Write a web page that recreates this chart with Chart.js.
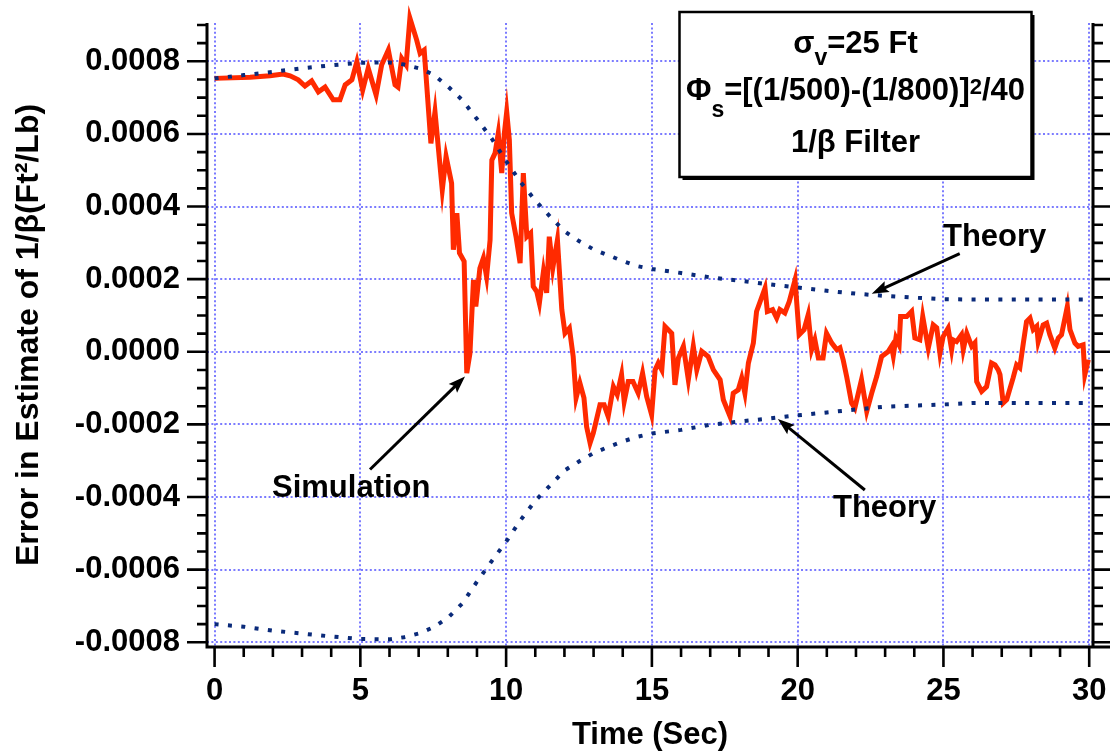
<!DOCTYPE html>
<html>
<head>
<meta charset="utf-8">
<script src="https://cdn.jsdelivr.net/npm/chart.js@4.4.1/dist/chart.umd.min.js"></script>
<style>
  html, body { margin: 0; padding: 0; background: #fff; }
  #wrap { width: 1110px; height: 754px; }
</style>
</head>
<body>
<div id="wrap"><canvas id="errChart" width="1110" height="754"></canvas></div>
<script>
// theory bounds (1-sigma) on the 1/beta estimate error, Ft^2/Lb
const theoryTime = [0, 1, 2, 3, 4, 5, 6, 6.5, 7, 7.5, 8, 8.5, 9, 9.5, 10, 10.5, 11, 11.5, 12, 12.5,
  13, 13.5, 14, 14.5, 15, 16, 17, 18, 19, 20, 21, 22, 23, 24, 25, 26, 27, 28, 29, 30];
const theoryUpper = [7.53e-4, 7.62e-4, 7.71e-4, 7.81e-4, 7.89e-4, 7.96e-4, 7.97e-4, 7.91e-4, 7.81e-4, 7.64e-4,
  7.31e-4, 6.93e-4, 6.41e-4, 5.88e-4, 5.25e-4, 4.67e-4, 4.17e-4, 3.73e-4, 3.32e-4, 3.05e-4,
  2.82e-4, 2.66e-4, 2.50e-4, 2.36e-4, 2.28e-4, 2.17e-4, 2.05e-4, 1.96e-4, 1.86e-4, 1.77e-4,
  1.68e-4, 1.60e-4, 1.54e-4, 1.49e-4, 1.45e-4, 1.44e-4, 1.44e-4, 1.44e-4, 1.44e-4, 1.44e-4];
const theoryLower = [-7.50e-4, -7.57e-4, -7.68e-4, -7.76e-4, -7.84e-4, -7.91e-4, -7.92e-4, -7.86e-4, -7.76e-4, -7.59e-4,
  -7.33e-4, -6.93e-4, -6.33e-4, -5.77e-4, -5.23e-4, -4.63e-4, -4.10e-4, -3.69e-4, -3.27e-4, -3.02e-4,
  -2.79e-4, -2.62e-4, -2.47e-4, -2.34e-4, -2.25e-4, -2.15e-4, -2.01e-4, -1.92e-4, -1.84e-4, -1.75e-4,
  -1.67e-4, -1.59e-4, -1.51e-4, -1.48e-4, -1.45e-4, -1.41e-4, -1.41e-4, -1.41e-4, -1.41e-4, -1.41e-4];

// single simulation run
const simTime = [0, 1.22, 1.90, 2.35, 2.59, 2.87, 3.10, 3.33, 3.56, 3.79,
  4.07, 4.30, 4.48, 4.71, 4.88, 5.08, 5.27, 5.54, 5.73, 5.96,
  6.19, 6.29, 6.42, 6.57, 6.70, 6.93, 7.05, 7.19, 7.42, 7.56,
  7.81, 7.94, 8.13, 8.19, 8.31, 8.40, 8.56, 8.65, 8.76, 8.88,
  8.96, 9.10, 9.22, 9.33, 9.45, 9.51, 9.62, 9.73, 9.85, 9.94,
  10.02, 10.11, 10.19, 10.34, 10.48, 10.59, 10.71, 10.84, 10.93, 11.05,
  11.14, 11.28, 11.39, 11.48, 11.60, 11.76, 11.91, 12.02, 12.17, 12.30,
  12.40, 12.53, 12.67, 12.76, 12.88, 12.99, 13.22, 13.36, 13.50, 13.68,
  13.81, 13.96, 14.05, 14.19, 14.35, 14.53, 14.68, 14.82, 14.99, 15.11,
  15.22, 15.34, 15.45, 15.68, 15.79, 15.91, 16.08, 16.25, 16.42, 16.54,
  16.71, 16.93, 17.11, 17.34, 17.45, 17.68, 17.79, 17.96, 18.08, 18.19,
  18.31, 18.48, 18.59, 18.88, 18.96, 19.14, 19.28, 19.39, 19.56, 19.71,
  19.91, 20.05, 20.22, 20.36, 20.48, 20.59, 20.71, 20.87, 20.99, 21.17,
  21.34, 21.45, 21.56, 21.68, 21.85, 21.96, 22.19, 22.37, 22.54, 22.71,
  22.88, 23.11, 23.22, 23.28, 23.37, 23.48, 23.53, 23.74, 23.91, 24.02,
  24.19, 24.29, 24.48, 24.65, 24.77, 24.88, 24.99, 25.16, 25.28, 25.33,
  25.45, 25.62, 25.68, 25.80, 25.97, 26.08, 26.14, 26.31, 26.48, 26.65,
  26.77, 26.88, 26.94, 27.05, 27.17, 27.39, 27.51, 27.62, 27.74, 27.85,
  27.97, 28.08, 28.20, 28.25, 28.42, 28.54, 28.65, 28.82, 28.94, 29.05,
  29.25, 29.34, 29.51, 29.62, 29.79, 29.85, 29.97];
const simError = [7.53e-4, 7.56e-4, 7.60e-4, 7.65e-4, 7.60e-4, 7.49e-4, 7.32e-4, 7.46e-4, 7.16e-4, 7.29e-4,
  6.94e-4, 6.94e-4, 7.35e-4, 7.49e-4, 7.99e-4, 7.21e-4, 7.81e-4, 7.07e-4, 7.90e-4, 8.31e-4,
  7.35e-4, 7.29e-4, 8.08e-4, 7.90e-4, 9.19e-4, 8.59e-4, 8.22e-4, 8.31e-4, 5.74e-4, 6.61e-4,
  4.46e-4, 5.38e-4, 4.64e-4, 2.81e-4, 3.82e-4, 2.72e-4, 2.49e-4, -0.59e-4, -0.04e-4, 1.98e-4,
  1.25e-4, 2.30e-4, 2.58e-4, 2.07e-4, 3.08e-4, 5.28e-4, 5.47e-4, 6.02e-4, 4.92e-4, 6.02e-4,
  6.61e-4, 5.84e-4, 3.82e-4, 3.17e-4, 2.44e-4, 4.92e-4, 3.17e-4, 3.27e-4, 1.80e-4, 1.66e-4,
  1.34e-4, 2.21e-4, 1.62e-4, 3.17e-4, 2.30e-4, 3.08e-4, 1.16e-4, 0.51e-4, 0.65e-4, -0.13e-4,
  -1.27e-4, -0.86e-4, -1.27e-4, -2.06e-4, -2.51e-4, -2.24e-4, -1.46e-4, -1.46e-4, -1.78e-4, -0.96e-4,
  -1.18e-4, -0.63e-4, -1.37e-4, -0.82e-4, -0.82e-4, -1.14e-4, -0.59e-4, -1.23e-4, -1.73e-4, -0.50e-4,
  -0.31e-4, -0.50e-4, 0.70e-4, 0.51e-4, -0.91e-4, -0.17e-4, 0.15e-4, -0.77e-4, 0.15e-4, -0.50e-4,
  0.01e-4, -0.13e-4, -0.50e-4, -0.77e-4, -1.32e-4, -1.78e-4, -1.14e-4, -1.05e-4, -0.72e-4, -1.14e-4,
  -0.31e-4, 0.24e-4, 1.11e-4, 1.75e-4, 1.11e-4, 1.16e-4, 0.93e-4, 1.16e-4, 1.07e-4, 1.38e-4,
  1.98e-4, 0.47e-4, 0.61e-4, 1.02e-4, 0.06e-4, 0.33e-4, -0.17e-4, -0.17e-4, 0.51e-4, 0.24e-4,
  0.06e-4, 0.11e-4, -0.22e-4, -0.68e-4, -1.41e-4, -1.55e-4, -0.77e-4, -1.64e-4, -1.14e-4, -0.68e-4,
  -0.13e-4, 0.01e-4, 0.15e-4, -0.11e-4, 0.38e-4, 0.19e-4, 0.97e-4, 0.97e-4, 1.11e-4, 0.38e-4,
  0.33e-4, 0.97e-4, 0.10e-4, 0.74e-4, 0.66e-4, -0.04e-4, 0.42e-4, 0.65e-4, 0.06e-4, 0.33e-4,
  0.28e-4, 0.47e-4, 0.06e-4, 0.51e-4, 0.15e-4, 0.25e-4, -0.82e-4, -1.09e-4, -0.96e-4, -0.31e-4,
  -0.36e-4, -0.50e-4, -0.63e-4, -1.41e-4, -1.32e-4, -0.72e-4, -0.36e-4, -0.44e-4, 0.24e-4, 0.83e-4,
  0.93e-4, 0.61e-4, 0.70e-4, 0.28e-4, 0.74e-4, 0.79e-4, 0.47e-4, 0.10e-4, 0.38e-4, 0.47e-4,
  1.25e-4, 0.61e-4, 0.24e-4, 0.15e-4, 0.19e-4, -0.63e-4, -0.22e-4];

// labelled (major) ticks; minor ticks fall between them
const xMajor = [0, 5, 10, 15, 20, 25, 30];
const yMajor = [-0.0008, -0.0006, -0.0004, -0.0002, 0, 0.0002, 0.0004, 0.0006, 0.0008];
const xMinorStep = 1;
const yMinorStep = 0.00005;

const FONT = '"Liberation Sans", Arial, Helvetica, sans-serif';
const GRID_BLUE = '#7b7bff';
const NAVY = '#0a2a7a';
const RED = '#ff2a00';

function pts(xs, ys) {
  return xs.map((t, i) => ({ x: t, y: ys[i] }));
}

function isMajor(v, list) {
  return list.some(m => Math.abs(m - v) < 1e-9);
}

// keep the plot box fixed: no extra room for overhanging tick labels
function fixBox(size) {
  return s => {
    if (s.isHorizontal()) s.height = size; else s.width = size;
    s.paddingTop = s.paddingBottom = s.paddingLeft = s.paddingRight = 0;
  };
}

function arrow(ctx, x1, y1, x2, y2) {
  const ang = Math.atan2(y2 - y1, x2 - x1);
  const len = 17, half = 6;
  const bx = x2 - len * Math.cos(ang), by = y2 - len * Math.sin(ang);
  ctx.beginPath();
  ctx.moveTo(x1, y1);
  ctx.lineTo(bx + 4 * Math.cos(ang), by + 4 * Math.sin(ang));
  ctx.stroke();
  ctx.beginPath();
  ctx.moveTo(x2, y2);
  ctx.lineTo(bx + half * Math.sin(ang), by - half * Math.cos(ang));
  ctx.lineTo(bx + 3 * Math.cos(ang), by + 3 * Math.sin(ang));
  ctx.lineTo(bx - half * Math.sin(ang), by + half * Math.cos(ang));
  ctx.closePath();
  ctx.fill();
}

// one line of mixed text with sub/superscripts, centred on cx
function richLine(ctx, parts, cx, base) {
  let w = 0;
  parts.forEach(p => {
    ctx.font = 'bold ' + (p.size || 31) + 'px ' + FONT;
    p.w = ctx.measureText(p.t).width;
    w += p.w;
  });
  let x = cx - w / 2;
  parts.forEach(p => {
    ctx.font = 'bold ' + (p.size || 31) + 'px ' + FONT;
    ctx.fillText(p.t, x, base + (p.dy || 0));
    x += p.w;
  });
}

const framePlugin = {
  id: 'frame',
  beforeDatasetsDraw(chart) {
    const { ctx, chartArea: a, scales: { x, y } } = chart;
    ctx.save();
    ctx.strokeStyle = GRID_BLUE;
    ctx.lineWidth = 2;
    ctx.setLineDash([2, 2.4]);
    xMajor.forEach(v => {
      const px = Math.round(x.getPixelForValue(v));
      ctx.beginPath();
      ctx.moveTo(px, a.top);
      ctx.lineTo(px, a.bottom);
      ctx.stroke();
    });
    yMajor.forEach(v => {
      const py = Math.round(y.getPixelForValue(v));
      ctx.beginPath();
      ctx.moveTo(a.left, py);
      ctx.lineTo(a.right, py);
      ctx.stroke();
    });
    ctx.restore();
  },
  afterDatasetsDraw(chart) {
    const { ctx, chartArea: a, scales: { x, y } } = chart;
    ctx.save();
    ctx.strokeStyle = '#000';
    ctx.lineWidth = 3;
    ctx.beginPath();
    ctx.moveTo(a.left, a.top);
    ctx.lineTo(a.left, a.bottom);
    ctx.lineTo(chart.width, a.bottom);
    ctx.moveTo(a.right, a.top);
    ctx.lineTo(a.right, a.bottom);
    ctx.stroke();

    ctx.lineWidth = 2.6;
    ctx.beginPath();
    for (let t = 0; t <= 30 + 1e-9; t += xMinorStep) {
      const px = x.getPixelForValue(t);
      const len = isMajor(t, xMajor) ? 20 : 10;
      ctx.moveTo(px, a.bottom);
      ctx.lineTo(px, a.bottom + len);
    }
    for (let k = -16; k <= 18; k++) {
      const v = k * yMinorStep;
      const py = y.getPixelForValue(v);
      const len = isMajor(v, yMajor) ? 20 : 10;
      ctx.moveTo(a.left, py);
      ctx.lineTo(a.left - len, py);
      ctx.moveTo(a.right, py);
      ctx.lineTo(a.right + len, py);
    }
    ctx.stroke();
    ctx.restore();
  },
  afterDraw(chart) {
    const { ctx, scales: { x, y } } = chart;
    ctx.save();

    // parameter box with drop shadow
    const bx = 679.5, by = 12, bw = 352, bh = 165;
    ctx.fillStyle = '#000';
    ctx.fillRect(bx + 3, by + 3, bw, bh);
    ctx.fillStyle = '#fff';
    ctx.fillRect(bx, by, bw, bh);
    ctx.strokeStyle = '#000';
    ctx.lineWidth = 2.5;
    ctx.strokeRect(bx, by, bw, bh);

    ctx.fillStyle = '#000';
    ctx.textAlign = 'left';
    ctx.textBaseline = 'alphabetic';
    const cx = bx + bw / 2;
    richLine(ctx, [{ t: 'σ' }, { t: 'v', size: 23, dy: 12 }, { t: '=25 Ft' }], cx, 53);
    richLine(ctx, [{ t: 'Φ' }, { t: 's', size: 23, dy: 17 }, { t: '=[(1/500)-(1/800)]' },
      { t: '2', size: 22, dy: -6 }, { t: '/40' }], cx, 100);
    richLine(ctx, [{ t: '1/β Filter' }], cx, 152);

    // callouts
    ctx.strokeStyle = '#000';
    ctx.lineWidth = 3;
    const up = { x: x.getPixelForValue(22.54), y: y.getPixelForValue(1.60e-4) };
    const lo = { x: x.getPixelForValue(19.32), y: y.getPixelForValue(-1.85e-4) };
    const sim = { x: x.getPixelForValue(8.59), y: y.getPixelForValue(-0.68e-4) };
    arrow(ctx, up.x + 88, up.y - 40, up.x, up.y);
    arrow(ctx, lo.x + 87, lo.y + 71, lo.x, lo.y);
    arrow(ctx, sim.x - 95, sim.y + 93, sim.x, sim.y);

    ctx.font = 'bold 31px ' + FONT;
    ctx.fillText('Theory', 943, 246);
    ctx.fillText('Theory', 833, 517);
    ctx.fillText('Simulation', 272, 497);
    ctx.restore();
  }
};

const tickFont = { family: FONT, size: 31, weight: 'bold' };

new Chart(document.getElementById('errChart'), {
  type: 'line',
  data: {
    datasets: [
      {
        label: 'Theory',
        data: pts(theoryTime, theoryUpper),
        borderColor: NAVY,
        borderWidth: 4,
        borderDash: [4, 9.4],
        borderCapStyle: 'butt',
        pointRadius: 0,
        tension: 0,
        clip: false
      },
      {
        label: 'Theory',
        data: pts(theoryTime, theoryLower),
        borderColor: NAVY,
        borderWidth: 4,
        borderDash: [4, 9.4],
        borderCapStyle: 'butt',
        pointRadius: 0,
        tension: 0,
        clip: false
      },
      {
        label: 'Simulation',
        data: pts(simTime, simError),
        borderColor: RED,
        borderWidth: 5,
        pointRadius: 0,
        tension: 0,
        clip: false
      }
    ]
  },
  options: {
    responsive: false,
    animation: false,
    events: [],
    layout: { padding: { top: 23, right: 17, left: 0, bottom: 0 } },
    plugins: { legend: { display: false }, tooltip: { enabled: false } },
    scales: {
      x: {
        type: 'linear',
        min: -0.26,
        max: 30.13,
        afterBuildTicks: s => { s.ticks = xMajor.map(v => ({ value: v })); },
        afterFit: fixBox(107),
        grid: { display: false, drawTicks: false },
        border: { display: false },
        ticks: {
          autoSkip: false, maxRotation: 0, padding: 26, color: '#000', font: tickFont,
          callback: v => String(v)
        },
        title: {
          display: true, text: 'Time (Sec)', color: '#000',
          font: { family: FONT, size: 31, weight: 'bold' }, padding: { top: 0, bottom: 0 }
        }
      },
      y: {
        min: -0.000813,
        max: 0.0009055,
        afterBuildTicks: s => { s.ticks = yMajor.map(v => ({ value: v })); },
        afterFit: fixBox(207),
        grid: { display: false, drawTicks: false },
        border: { display: false },
        ticks: {
          autoSkip: false, padding: 27, color: '#000', font: tickFont,
          callback: v => v.toFixed(4)
        },
        title: {
          display: true, text: 'Error in Estimate of 1/β(Ft²/Lb)', color: '#000',
          font: { family: FONT, size: 32, weight: 'bold' }, padding: { top: 10, bottom: 0 }
        }
      }
    }
  },
  plugins: [framePlugin]
});
</script>
</body>
</html>
